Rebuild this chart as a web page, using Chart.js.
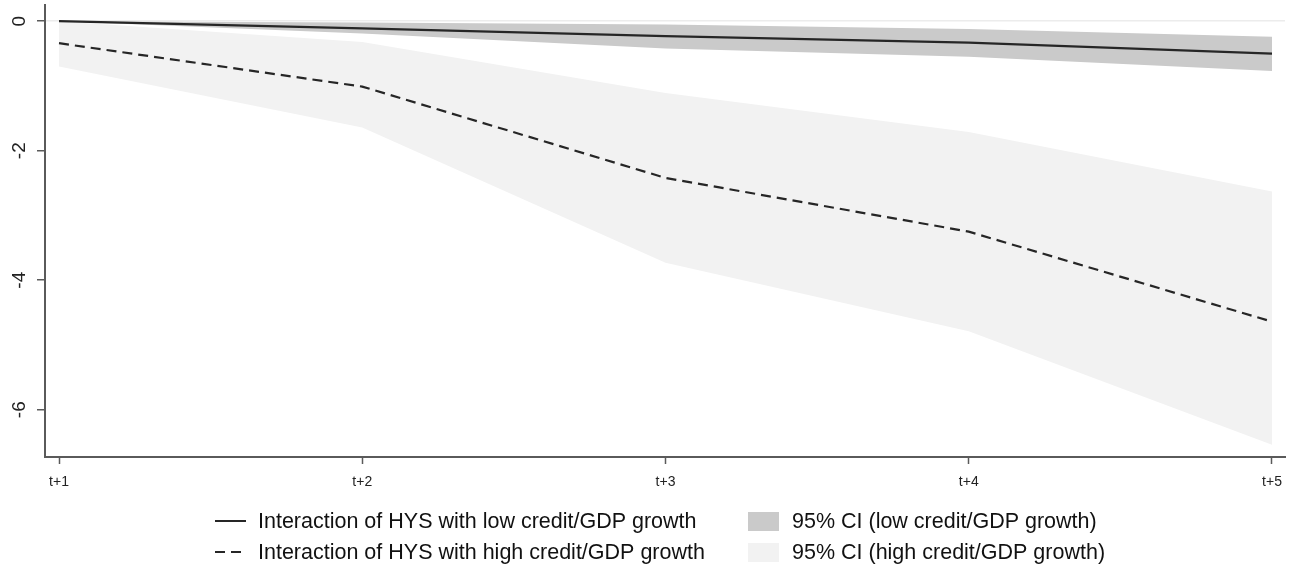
<!DOCTYPE html>
<html>
<head>
<meta charset="utf-8">
<script src="https://cdn.jsdelivr.net/npm/chart.js@4/dist/chart.umd.min.js"></script>
<style>
  html, body { margin: 0; padding: 0; background: #ffffff; }
  #wrap { width: 1293px; height: 565px; }
</style>
</head>
<body>
<div id="wrap"><canvas id="c" width="1293" height="565"></canvas></div>
<script>
// Horizons after the shock
const horizons = [1, 2, 3, 4, 5];
const horizonLabels = ['t+1', 't+2', 't+3', 't+4', 't+5'];
const yTicks = [-6, -4, -2, 0];

// Interaction of HYS with low credit/GDP growth
const lowEstimate = [0, -0.11, -0.23, -0.33, -0.50];
const lowUpper    = [0, -0.02, -0.05, -0.12, -0.24];
const lowLower    = [0, -0.19, -0.42, -0.55, -0.77];

// Interaction of HYS with high credit/GDP growth
const highEstimate = [-0.34, -1.01, -2.42, -3.25, -4.64];
const highUpper    = [0, -0.32, -1.11, -1.71, -2.63];
const highLower    = [-0.70, -1.64, -3.73, -4.79, -6.54];

const legendLines = [
  'Interaction of HYS with low credit/GDP growth',
  'Interaction of HYS with high credit/GDP growth'
];
const legendBands = [
  '95% CI (low credit/GDP growth)',
  '95% CI (high credit/GDP growth)'
];

const LOW_BAND = '#cacaca';
const HIGH_BAND = '#f2f2f2';
const LINE = '#262626';
const AXIS = '#5a5a5a';
const FONT = '"Liberation Sans", Arial, sans-serif';

const pts = arr => arr.map((v, i) => ({ x: horizons[i], y: v }));

const base = { pointRadius: 0, pointHoverRadius: 0, tension: 0 };

// rotated y-axis tick labels, placed from the y scale
const yLabels = {
  id: 'yLabels',
  afterDraw(chart) {
    const ctx = chart.ctx;
    const ys = chart.scales.y;
    ctx.save();
    ctx.fillStyle = '#222';
    ctx.font = '19px ' + FONT;
    ctx.textAlign = 'center';
    ctx.textBaseline = 'middle';
    ys.ticks.forEach(t => {
      const py = ys.getPixelForValue(t.value);
      ctx.save();
      ctx.translate(20, py);
      ctx.rotate(-Math.PI / 2);
      ctx.fillText(String(t.value), 0, 0);
      ctx.restore();
    });
    ctx.restore();
  }
};

// two-column key below the plot
const legendBlock = {
  id: 'legendBlock',
  afterDraw(chart) {
    const ctx = chart.ctx;
    ctx.save();
    ctx.font = '21.5px ' + FONT;
    ctx.textBaseline = 'middle';
    ctx.textAlign = 'left';
    const rows = [521, 552];
    ctx.strokeStyle = LINE;
    ctx.lineWidth = 2;
    rows.forEach((ry, i) => {
      ctx.setLineDash(i === 0 ? [] : [10, 6]);
      ctx.beginPath();
      ctx.moveTo(215, ry);
      ctx.lineTo(246, ry);
      ctx.stroke();
      ctx.fillStyle = '#111';
      ctx.fillText(legendLines[i], 258, ry + 1);
    });
    ctx.setLineDash([]);
    [LOW_BAND, HIGH_BAND].forEach((col, i) => {
      const ry = rows[i];
      ctx.fillStyle = col;
      ctx.fillRect(748, ry - 9, 31, 19);
      ctx.fillStyle = '#111';
      ctx.fillText(legendBands[i], 792, ry + 1);
    });
    ctx.restore();
  }
};

new Chart(document.getElementById('c'), {
  type: 'line',
  data: {
    datasets: [
      { ...base, data: pts(highUpper), borderWidth: 0, borderColor: 'transparent',
        backgroundColor: HIGH_BAND, fill: 1, order: 4 },
      { ...base, data: pts(highLower), borderWidth: 0, borderColor: 'transparent',
        fill: false, order: 4 },
      { ...base, data: pts(lowUpper), borderWidth: 0, borderColor: 'transparent',
        backgroundColor: LOW_BAND, fill: 3, order: 3 },
      { ...base, data: pts(lowLower), borderWidth: 0, borderColor: 'transparent',
        fill: false, order: 3 },
      { ...base, data: pts(lowEstimate), borderColor: LINE, borderWidth: 2.2,
        fill: false, order: 1 },
      { ...base, data: pts(highEstimate), borderColor: LINE, borderWidth: 2.2,
        borderDash: [10, 6], fill: false, order: 1 }
    ]
  },
  options: {
    responsive: false,
    animation: false,
    events: [],
    layout: { padding: { left: 0, top: 5, right: 8, bottom: 0 } },
    plugins: {
      legend: { display: false },
      tooltip: { enabled: false }
    },
    scales: {
      x: {
        type: 'linear',
        min: 0.9538,
        max: 5.0429,
        afterBuildTicks: s => { s.ticks = horizons.map(v => ({ value: v })); },
        afterFit: s => { s.height = 108; },
        border: { display: true, color: AXIS, width: 2 },
        grid: { drawOnChartArea: false, drawTicks: true, tickLength: 7, tickColor: AXIS, tickWidth: 1.5 },
        ticks: {
          padding: 10,
          color: '#222',
          font: { family: FONT, size: 14 },
          maxRotation: 0,
          callback: v => horizonLabels[horizons.indexOf(v)]
        }
      },
      y: {
        type: 'linear',
        min: -6.73,
        max: 0.25,
        afterBuildTicks: s => { s.ticks = yTicks.map(v => ({ value: v })); },
        afterFit: s => { s.width = 45; },
        border: { display: true, color: AXIS, width: 2 },
        grid: {
          drawOnChartArea: true,
          drawTicks: true,
          tickLength: 8,
          tickColor: AXIS,
          tickWidth: 1.5,
          color: ctx => (ctx.tick && ctx.tick.value === 0) ? '#ececec' : 'transparent',
          lineWidth: 1.5
        },
        ticks: { display: false }
      }
    }
  },
  plugins: [yLabels, legendBlock]
});
</script>
</body>
</html>
